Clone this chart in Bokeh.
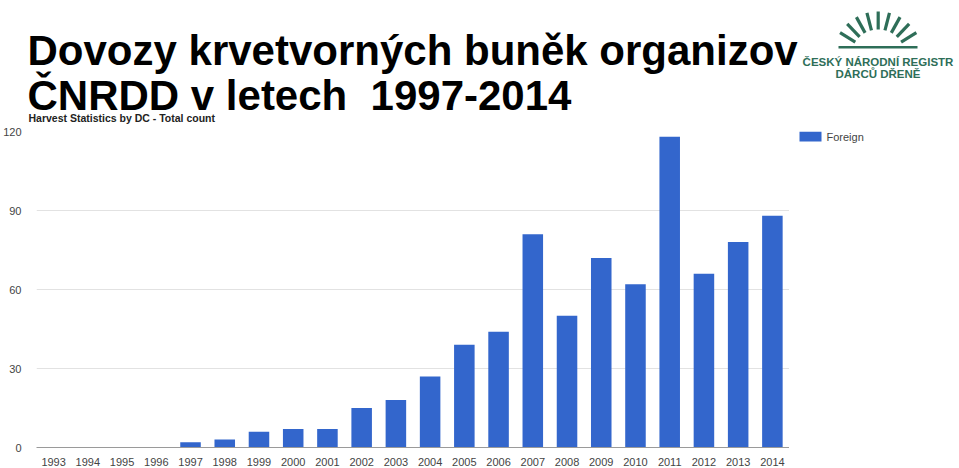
import math
from bokeh.plotting import figure
from bokeh.models import (Range1d, FactorRange, FixedTicker, Label, ColumnDataSource)
from bokeh.layouts import column, row
from bokeh.embed import file_html
from bokeh.resources import INLINE

# ---- data ----
years = [str(y) for y in range(1993, 2015)]
foreign = [0, 0, 0, 0, 2, 3, 6, 7, 7, 15, 18, 27, 39, 44, 81, 50, 72, 62, 118, 66, 78, 88]
y_ticks = [0, 30, 60, 90, 120]
series_name = "Foreign"

title_line1 = "Dovozy krvetvorných buněk organizov"
title_line2 = "ČNRDD v letech\u00a0 1997-2014"
subtitle = "Harvest Statistics by DC - Total count"
logo_line1 = "ČESKÝ NÁRODNÍ REGISTR"
logo_line2 = "DÁRCŮ DŘENĚ"

FONT = "Liberation Sans"
GREEN = "#2e6e58"
BLUE = "#3366cc"
MID = 0.35  # baseline-to-middle offset (em)

W = 958
TH = 124          # height of title strip
TW = 800          # width of title figure
LW = W - TW       # width of logo figure
MH = 468 - TH     # height of chart row
CW = 789          # width of chart figure (frame right edge)
GW = W - CW       # width of legend figure
ML, MT, MB = 28, 7, 21
FRAME_TOP = TH + MT
FRAME_BOTTOM = TH + MH - MB


def bare_fig(w, h, xr, yr):
    f = figure(width=w, height=h, x_range=xr, y_range=yr,
               x_axis_location=None, y_axis_location=None,
               output_backend="svg", toolbar_location=None)
    f.grid.visible = False
    f.outline_line_color = None
    f.background_fill_color = None
    f.border_fill_color = None
    f.min_border_left = f.min_border_right = f.min_border_top = f.min_border_bottom = 0
    return f


def mid_label(fig, page_x, page_base, fig_left, fig_bottom, txt, size, color, align, bold=True):
    ymid = page_base - MID * size
    fig.add_layout(Label(x=page_x - fig_left, y=fig_bottom - ymid, x_units="screen",
                         y_units="screen", text=txt, text_font=FONT,
                         text_font_size=f"{size}px",
                         text_font_style="bold" if bold else "normal",
                         text_color=color, text_baseline="middle", text_align=align))


# ---- title strip ----
tfig = bare_fig(TW, TH, Range1d(0, TW), Range1d(0, TH))
mid_label(tfig, 27, 65, 0, TH, title_line1, 42, "#000000", "left")
mid_label(tfig, 27, 110, 0, TH, title_line2, 42, "#000000", "left")
mid_label(tfig, 28, 121.5, 0, TH, subtitle, 10.5, "#222222", "left")

# ---- logo (decoration; page coordinates shifted into the logo figure) ----
lfig = bare_fig(LW, TH, Range1d(0, LW), Range1d(TH, 0))
cx, cy = 877.7 - TW, 56.0
angles = [32 + 14.5 * i for i in range(9)]
lfig.segment(x0=[cx + 27 * math.cos(math.radians(a)) for a in angles],
             y0=[cy - 27 * math.sin(math.radians(a)) for a in angles],
             x1=[cx + 45 * math.cos(math.radians(a)) for a in angles],
             y1=[cy - 45 * math.sin(math.radians(a)) for a in angles],
             line_color=GREEN, line_width=3.2, line_cap="butt")
lfig.segment(x0=[838 - TW], y0=[46.7], x1=[917 - TW], y1=[46.7], line_color=GREEN, line_width=2.6)
mid_label(lfig, 877.5, 66, TW, TH, logo_line1, 11.5, GREEN, "center")
mid_label(lfig, 877.5, 77.5, TW, TH, logo_line2, 11.5, GREEN, "center")

# ---- chart ----
src = ColumnDataSource(dict(year=years, value=foreign))
p = figure(width=CW, height=MH, x_range=FactorRange(*years, range_padding=0),
           y_range=Range1d(0, 120), output_backend="svg", toolbar_location=None)
p.min_border_left = ML
p.min_border_right = 0
p.min_border_top = MT
p.min_border_bottom = MB
p.outline_line_color = None
p.background_fill_color = None
p.border_fill_color = None

p.vbar(x="year", top="value", width=0.6, source=src, fill_color=BLUE, line_color=None)

p.yaxis.ticker = FixedTicker(ticks=y_ticks)
p.yaxis.axis_line_color = None
p.yaxis.major_tick_line_color = None
p.yaxis.minor_tick_line_color = None
p.yaxis.major_label_standoff = 9
p.yaxis.major_label_text_font = FONT
p.yaxis.major_label_text_font_size = "11px"
p.yaxis.major_label_text_color = "#444444"

p.xaxis.axis_line_color = "#9a9a9a"
p.xaxis.major_tick_line_color = None
p.xaxis.minor_tick_line_color = None
p.xaxis.major_label_standoff = 4
p.xaxis.major_label_text_font = FONT
p.xaxis.major_label_text_font_size = "11px"
p.xaxis.major_label_text_color = "#444444"

p.xgrid.grid_line_color = None
p.ygrid.grid_line_color = "#e2e2e2"
p.ygrid.ticker = FixedTicker(ticks=y_ticks)

# ---- legend strip (same top/bottom borders as the chart, page y as data) ----
gfig = bare_fig(GW, MH, Range1d(0, GW), Range1d(FRAME_BOTTOM, FRAME_TOP))
gfig.min_border_top = MT
gfig.min_border_bottom = MB
gfig.quad(left=[10], right=[32], top=[FRAME_TOP], bottom=[FRAME_TOP + 10],
          fill_color=BLUE, line_color=None)
mid_label(gfig, 826, FRAME_TOP + 5 + MID * 11, CW, FRAME_BOTTOM, series_name, 11,
          "#444444", "left", bold=False)

layout = column(row(tfig, lfig), row(p, gfig))
open("out.html", "w").write(file_html(layout, INLINE))
